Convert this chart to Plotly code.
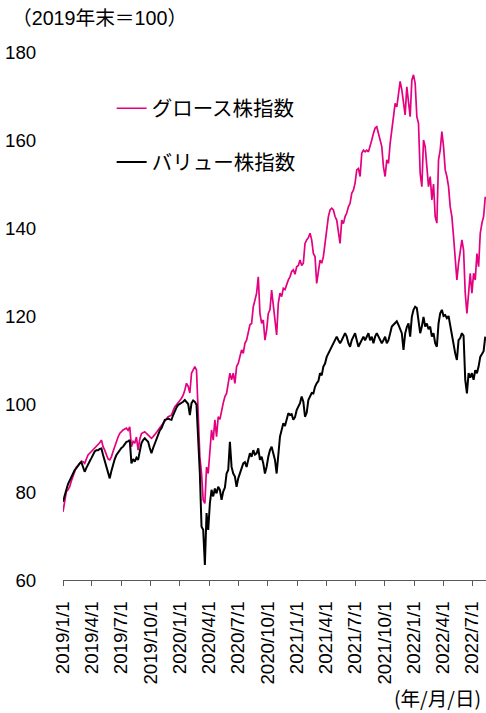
import pandas as pd
import plotly.graph_objects as go

# Sampling grid: one reading every 125 hours starting 2019-01-01
start_date = "2019-01-01"
sample_step = "125h"

# Growth index (2019 year-end = 100)
growth_2019 = [
    75.5, 78.0, 80.1, 80.5, 81.2, 82.5, 83.5, 84.5, 85.7, 86.0,
    86.5, 87.0, 86.9, 86.5, 87.5, 88.4, 88.8, 89.2, 89.5, 89.9,
    90.3, 90.7, 91.2, 91.8, 90.3, 89.5, 88.4, 87.5, 87.3, 88.0,
    89.2, 90.5, 91.8, 92.5, 93.3, 93.8, 94.1, 94.3, 94.5, 94.0,
    94.8, 90.3, 91.5, 91.1, 92.5, 89.5, 92.0, 93.3, 93.5, 93.7,
    93.3, 93.0, 92.5, 92.2, 92.6, 93.0, 93.5, 94.1, 94.6, 95.2,
    95.6, 96.0, 96.5, 97.1, 97.3, 97.5, 98.5, 99.4, 99.8, 100.2,
    100.8, 101.3, 102.0, 103.2, 104.7, 104.0,
]
growth_2020 = [
    102.5, 107.0, 107.8, 108.5, 107.7, 95.6, 88.0, 84.2, 78.2, 77.4,
    85.7, 84.2, 88.8, 94.1, 91.8, 96.4, 92.6, 97.1, 96.5, 98.6,
    100.2, 101.7, 102.4, 104.7, 107.0, 105.5, 107.0, 104.7, 108.5, 109.2,
    111.1, 112.3, 111.5, 113.8, 114.5, 116.1, 118.0, 118.3, 122.1, 123.6,
    125.2, 128.9, 120.6, 118.3, 119.1, 114.5, 116.8, 120.6, 121.4, 125.9,
    122.9, 119.1, 115.7, 122.9, 125.2, 124.4, 126.3, 126.0, 127.4, 128.2,
    128.9, 130.1, 130.5, 129.5,
]
growth_2021 = [
    131.2, 131.5, 132.7, 131.5, 132.0, 136.5, 137.3, 137.8, 138.8, 137.3,
    134.2, 133.5, 127.4, 130.5, 132.7, 132.0, 133.5, 136.5, 139.5, 142.6,
    144.1, 144.5, 144.1, 142.6, 141.8, 139.5, 136.5, 141.8, 141.0, 142.6,
    143.4, 144.8, 145.6, 147.9, 148.6, 150.2, 153.2, 153.5, 151.7, 157.0,
    157.7, 157.3, 157.7, 157.3, 158.5, 160.0, 161.5, 162.7, 163.0, 161.5,
    160.0, 158.5, 153.9, 151.7,
]
growth_2022 = [
    155.5, 154.7, 159.2, 162.3, 166.1, 168.3, 167.5, 170.6, 173.3, 171.4,
    168.3, 165.7, 172.1, 169.1, 165.3, 173.6, 174.8, 172.9, 165.3, 163.8,
    152.4, 149.4, 160.0, 158.5, 153.2, 149.4, 151.7, 146.4, 150.0, 142.6,
    141.1, 155.5, 157.7, 161.9, 158.5, 153.2, 151.7, 149.4, 144.8, 142.6,
    138.0, 132.7, 128.2, 132.0, 135.0, 137.3, 135.0, 125.2, 120.6, 125.9,
    129.7, 125.2, 129.7, 128.2, 134.2, 131.2, 138.8, 141.1, 142.6, 147.1,
]

# Value index (2019 year-end = 100)
value_2019 = [
    77.8, 79.5, 80.5, 81.8, 82.7, 83.5, 84.2, 85.0, 85.4, 86.0,
    86.5, 86.8, 85.7, 84.6, 85.5, 86.1, 87.0, 87.7, 88.5, 89.2,
    89.5, 89.5, 89.8, 89.9, 88.4, 87.0, 85.7, 84.2, 83.1, 84.8,
    86.5, 87.5, 88.4, 89.0, 89.5, 90.0, 90.3, 90.8, 91.4, 91.5,
    91.8, 86.5, 87.5, 86.9, 87.8, 87.3, 89.5, 91.1, 91.8, 92.2,
    91.8, 91.4, 90.0, 88.8, 90.0, 91.1, 92.2, 93.3, 94.0, 94.5,
    95.5, 96.4, 96.5, 96.7, 96.5, 96.4, 97.5, 98.6, 99.2, 99.8,
    100.0, 100.2, 100.5, 100.9, 100.5, 100.0,
]
value_2020 = [
    97.5, 100.2, 100.8, 100.5, 99.8, 91.8, 84.2, 72.1, 71.4, 63.4,
    75.2, 71.4, 77.4, 80.5, 79.0, 80.8, 79.7, 81.2, 80.5, 78.2,
    80.1, 81.0, 84.2, 85.0, 91.4, 85.7, 84.2, 83.5, 81.2, 83.1,
    84.2, 85.7, 86.5, 86.8, 85.7, 87.3, 88.8, 88.0, 89.5, 88.5,
    88.8, 89.9, 87.3, 88.0, 86.5, 84.2, 85.7, 88.0, 89.5, 90.3,
    89.0, 87.3, 84.2, 88.8, 92.6, 94.1, 95.6, 95.0, 96.4, 97.9,
    97.5, 97.7, 96.4, 97.0,
]
value_2021 = [
    98.6, 99.5, 100.2, 101.7, 100.5, 97.1, 98.0, 100.9, 101.7, 102.5,
    102.4, 103.9, 104.7, 105.2, 107.0, 106.5, 108.5, 109.2, 110.7, 111.5,
    112.3, 113.0, 113.8, 114.5, 115.3, 114.5, 113.8, 114.5, 115.3, 116.1,
    115.3, 113.8, 113.0, 114.5, 115.3, 116.1, 114.5, 113.0, 113.8, 114.5,
    115.3, 114.5, 115.3, 116.1, 114.5, 115.3, 113.8, 115.3, 116.1, 115.3,
    114.5, 113.8, 114.5, 115.3,
]
value_2022 = [
    113.8, 114.5, 116.0, 117.6, 118.0, 118.3, 118.8, 118.0, 117.0, 116.1,
    112.3, 116.0, 117.5, 118.3, 115.3, 119.8, 121.4, 122.1, 121.8, 119.1,
    116.1, 117.6, 119.8, 117.6, 118.3, 117.0, 117.6, 115.3, 116.1, 113.8,
    113.0, 118.3, 120.6, 121.4, 120.0, 120.2, 119.5, 120.0, 117.6, 115.3,
    113.0, 111.5, 110.0, 114.5, 115.0, 116.1, 115.5, 105.5, 102.4, 107.0,
    106.0, 107.0, 105.5, 107.7, 107.0, 108.5, 110.7, 111.5, 112.0, 115.3,
]

growth = growth_2019 + growth_2020 + growth_2021 + growth_2022
value = value_2019 + value_2020 + value_2021 + value_2022
dates = pd.date_range(start=start_date, periods=len(growth), freq=sample_step)

tick_dates = ["2019-01-01", "2019-04-01", "2019-07-01", "2019-10-01",
              "2020-01-01", "2020-04-01", "2020-07-01", "2020-10-01",
              "2021-01-01", "2021-04-01", "2021-07-01", "2021-10-01",
              "2022-01-01", "2022-04-01", "2022-07-01"]
tick_labels = ["2019/1/1", "2019/4/1", "2019/7/1", "2019/10/1",
               "2020/1/1", "2020/4/1", "2020/7/1", "2020/10/1",
               "2021/1/1", "2021/4/1", "2021/7/1", "2021/10/1",
               "2022/1/1", "2022/4/1", "2022/7/1"]
y_ticks = [60, 80, 100, 120, 140, 160, 180]

series_names = ["グロース株指数", "バリュー株指数"]
title_text = "（2019年末＝100）"
unit_text = "(年/月/日)"

FONT = "Liberation Sans, Arial, Noto Sans CJK JP, sans-serif"
JFONT = "Noto Sans CJK JP, sans-serif"
MAGENTA = "#E4007F"

fig = go.Figure()
fig.add_trace(go.Scatter(x=dates, y=growth, mode="lines", name=series_names[0],
                         line=dict(color=MAGENTA, width=1.7), legendgroup="g"))
fig.add_trace(go.Scatter(x=dates, y=value, mode="lines", name=series_names[1],
                         line=dict(color="#000000", width=2), legendgroup="v"))

fig.update_layout(
    width=486, height=713,
    margin=dict(l=63, r=0, t=52, b=133),
    paper_bgcolor="white", plot_bgcolor="white",
    font=dict(family=FONT, size=18.7, color="#000000"),
    showlegend=True,
    legend=dict(x=0.115, y=0.931, xanchor="left", yanchor="top",
                bgcolor="rgba(0,0,0,0)", borderwidth=0,
                font=dict(family=JFONT, size=20.5, color="#000000"),
                traceorder="grouped", tracegroupgap=24,
                itemwidth=30),
    xaxis=dict(type="date", range=["2019-01-01", "2022-08-13"],
               tickvals=tick_dates, ticktext=tick_labels, tickangle=-90,
               showline=True, linecolor="#595959", linewidth=1,
               ticks="outside", ticklen=5, tickcolor="#595959",
               ticklabelstandoff=8,
               showgrid=False, zeroline=False,
               tickfont=dict(family=FONT, size=18.7, color="#000000")),
    yaxis=dict(range=[60, 180], tickvals=y_ticks,
               showline=False, showgrid=False, zeroline=False,
               ticks="outside", ticklen=22, tickcolor="rgba(0,0,0,0)",
               tickfont=dict(family=FONT, size=18.7, color="#000000")),
    annotations=[
        dict(text=title_text, xref="paper", yref="paper",
             x=-0.1253, y=1.0644, xanchor="left", yanchor="middle",
             showarrow=False, font=dict(family=FONT + ", " + JFONT, size=19.7)),
        dict(text=unit_text, xref="paper", yref="paper",
             x=0.993, y=-0.2216, xanchor="right", yanchor="middle",
             showarrow=False, font=dict(family=JFONT, size=19.5)),
    ],
)

# Remove the default page margin so the 486x713 figure fills the window exactly
fig.write_html("out.html",
               config={"displayModeBar": False},
               post_script="document.body.style.margin='0';"
                           "document.body.style.overflow='hidden';")
